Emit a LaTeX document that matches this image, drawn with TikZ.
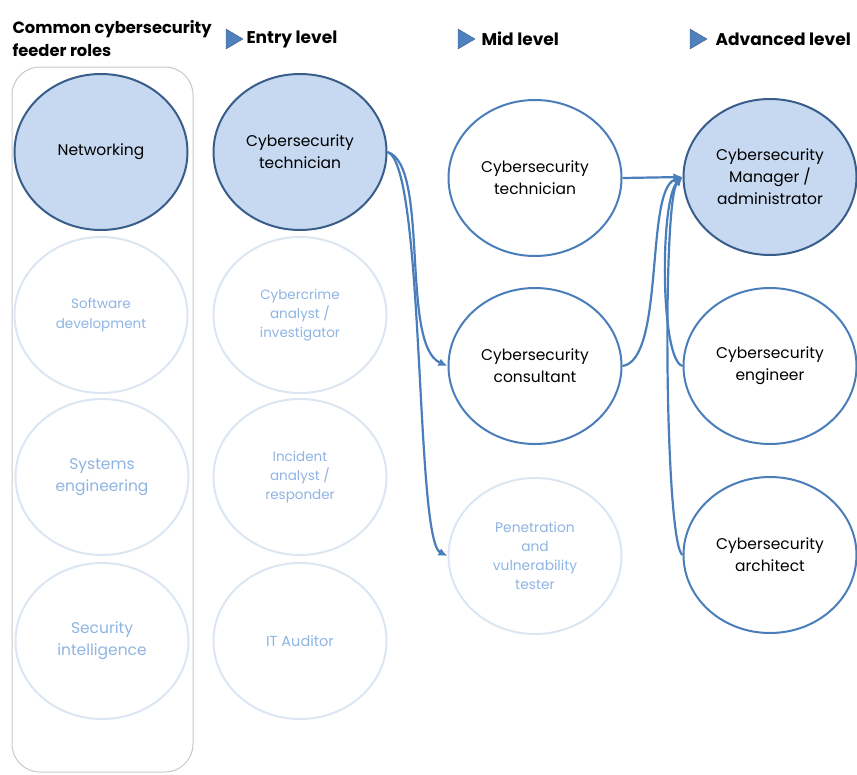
\documentclass[tikz,border=0pt]{standalone}
\usepackage{fontspec}
\setmainfont{Poppins}
\usetikzlibrary{shapes.geometric,arrows.meta}
\definecolor{fillblue}{HTML}{C6D9F1}
\definecolor{darkline}{HTML}{385D8A}
\definecolor{midline}{HTML}{4A7EBB}
\definecolor{paleline}{HTML}{DCE6F2}
\definecolor{paletext}{HTML}{8EB4E3}
\definecolor{headtri}{HTML}{4F81BD}
\definecolor{boxline}{HTML}{C8C8C8}

\begin{document}
\begin{tikzpicture}[x=1pt,y=-1pt,
  role/.style={ellipse, minimum width=173pt, minimum height=156pt, inner sep=0pt, align=center, line width=2pt},
  keyrole/.style={role, draw=darkline, fill=fillblue, font=\fontsize{15.5}{22}\selectfont},
  openrole/.style={role, draw=midline, font=\fontsize{15.5}{22}\selectfont},
  fadedrole/.style={role, draw=paleline, text=paletext, font=\fontsize{13.5}{20}\selectfont},
  link/.style={midline, line width=2.2pt, -{Latex[length=9pt,width=8pt]}},
  heading/.style={anchor=west, font=\fontsize{17}{23}\selectfont\bfseries},
  marker/.style={fill=headtri, draw=darkline, line width=0.4pt}]
       \useasboundingbox (0,0) rectangle (857,774);

       % headings
       \node[heading, align=left, font=\fontsize{16.3}{23}\selectfont\bfseries] (feeder) at (9,39) {Common cybersecurity\\feeder roles};
       \filldraw[marker] (226,29) -- (243,39) -- (226,49) -- cycle;
       \node[heading] (entry) at (243,39) {Entry level};
       \filldraw[marker] (458,29) -- (475,39) -- (458,49) -- cycle;
       \node[heading] (mid) at (478,39) {Mid level};
       \filldraw[marker] (690,29) -- (707,39) -- (690,49) -- cycle;
       \node[heading] (adv) at (712,39) {Advanced level};

       \draw[boxline, line width=1pt, rounded corners=28pt] (12,67) rectangle (193,772);

       % feeder roles
       \node[keyrole] (net) at (101,152) {Networking};
       \node[fadedrole] (soft) at (101,315) {Software\\development};
       \node[fadedrole, font=\fontsize{15.5}{22}\selectfont] (sys) at (102,477) {Systems\\engineering};
       \node[fadedrole, font=\fontsize{15.5}{22}\selectfont] (intel) at (102,641) {Security\\intelligence};

       % entry level
       \node[keyrole] (tech) at (300,152) {Cybersecurity\\technician};
       \node[fadedrole, font=\fontsize{13.5}{19}\selectfont] (crime) at (300,315) {Cybercrime\\analyst /\\investigator};
       \node[fadedrole, font=\fontsize{13.5}{19}\selectfont] (incident) at (300,477) {Incident\\analyst /\\responder};
       \node[fadedrole, font=\fontsize{14.5}{20}\selectfont] (audit) at (300,641) {IT Auditor};

       % mid level
       \node[openrole] (midtech) at (535,178) {Cybersecurity\\technician};
       \node[openrole] (consult) at (535,366) {Cybersecurity\\consultant};
       \node[fadedrole, font=\fontsize{13.8}{19}\selectfont] (pentest) at (535,556) {Penetration\\and\\vulnerability\\tester};

       % advanced level
       \node[keyrole] (manager) at (770,177) {Cybersecurity\\Manager /\\administrator};
       \node[openrole] (engineer) at (770,366) {Cybersecurity\\engineer};
       \node[openrole] (architect) at (770,555) {Cybersecurity\\architect};

       % paths
       \draw[link] (tech.east) .. controls (430,165) and (400,345) .. (consult.west);
       \draw[link] (tech.east) .. controls (425,165) and (415,540) .. (pentest.west);
       \draw[link] (midtech.east) -- (manager.west);
       \draw[link] (consult.east) .. controls (665,360) and (645,190) .. (manager.west);
       \draw[link] (engineer.west) .. controls (660,360) and (660,200) .. (manager.west);
       \draw[link] (architect.west) .. controls (665,545) and (662,200) .. (manager.west);
\end{tikzpicture}
\end{document}
